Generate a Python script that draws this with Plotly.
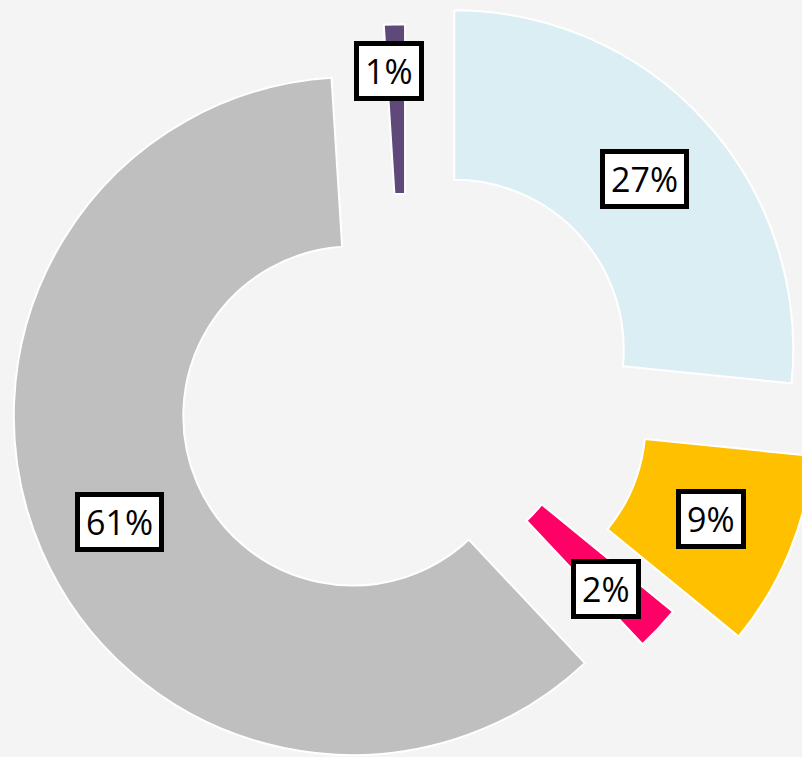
import math
import plotly.graph_objects as go

# ---- data (clockwise from 12 o'clock) ----
categories = ["A", "B", "C", "D", "E"]
values = [26.6, 9.3, 2.1, 61.0, 1.0]
colors = ["#DAEEF3", "#FFC000", "#FF0066", "#BFBFBF", "#5F497A"]
pulls = [0.192, 0.224, 0.018, 0.171, 0.088]

# ---- layout / style ----
VIEW_W, VIEW_H = 802, 757
VIEW_CX, VIEW_CY = 406, 393      # un-pulled pie centre in the visible window
R_PX = 339                        # outer radius in px
HOLE = 0.5
OX, OY = 20, 30                   # figure is shifted so the pie may overflow the window
W, H = 860, 860
label_nudge = [(2, 0), (0, 0), (10, 18), (0, 5), (-8, -38)]
BG = "#F4F4F4"

cx, cy = VIEW_CX + OX, VIEW_CY + OY
half = R_PX * (1 + max(pulls))
domain_x = [(cx - half) / W, (cx + half) / W]
domain_y = [1 - (cy + half) / H, 1 - (cy - half) / H]

fig = go.Figure(go.Pie(
    labels=categories, values=values, sort=False, direction="clockwise",
    rotation=0, hole=HOLE, pull=pulls, textinfo="none", hoverinfo="label+percent",
    marker=dict(colors=colors, line=dict(color="white", width=2)),
    domain=dict(x=domain_x, y=domain_y),
))

total = sum(values)
annotations = []
cum = 0.0
for v, p, (nx, ny) in zip(values, pulls, label_nudge):
    a0 = cum / total * 360
    cum += v
    a1 = cum / total * 360
    mid = math.radians((a0 + a1) / 2)
    dx, dy = math.sin(mid), -math.cos(mid)
    rad = p * R_PX + R_PX * (1 + HOLE) / 2
    px = cx + dx * rad + nx
    py = cy + dy * rad + ny
    annotations.append(dict(
        x=px / W, y=1 - py / H, xref="paper", yref="paper",
        xanchor="center", yanchor="middle", showarrow=False,
        text=f"{v / total * 100:.0f}%",
        font=dict(family="Open Sans, sans-serif", size=34, color="black"),
        height=38, valign="middle",
        bgcolor="white", bordercolor="black", borderwidth=5, borderpad=6,
    ))

fig.update_layout(
    width=W, height=H, margin=dict(l=0, r=0, t=0, b=0),
    paper_bgcolor=BG, plot_bgcolor=BG, showlegend=False,
    annotations=annotations,
)

post = ("var d=document.getElementById('{plot_id}');"
        "d.style.position='absolute';d.style.left='-%dpx';d.style.top='-%dpx';"
        "document.documentElement.style.overflow='hidden';"
        "document.body.style.overflow='hidden';document.body.style.background='%s';"
        % (OX, OY, BG))
fig.write_html("out.html", post_script=post)
